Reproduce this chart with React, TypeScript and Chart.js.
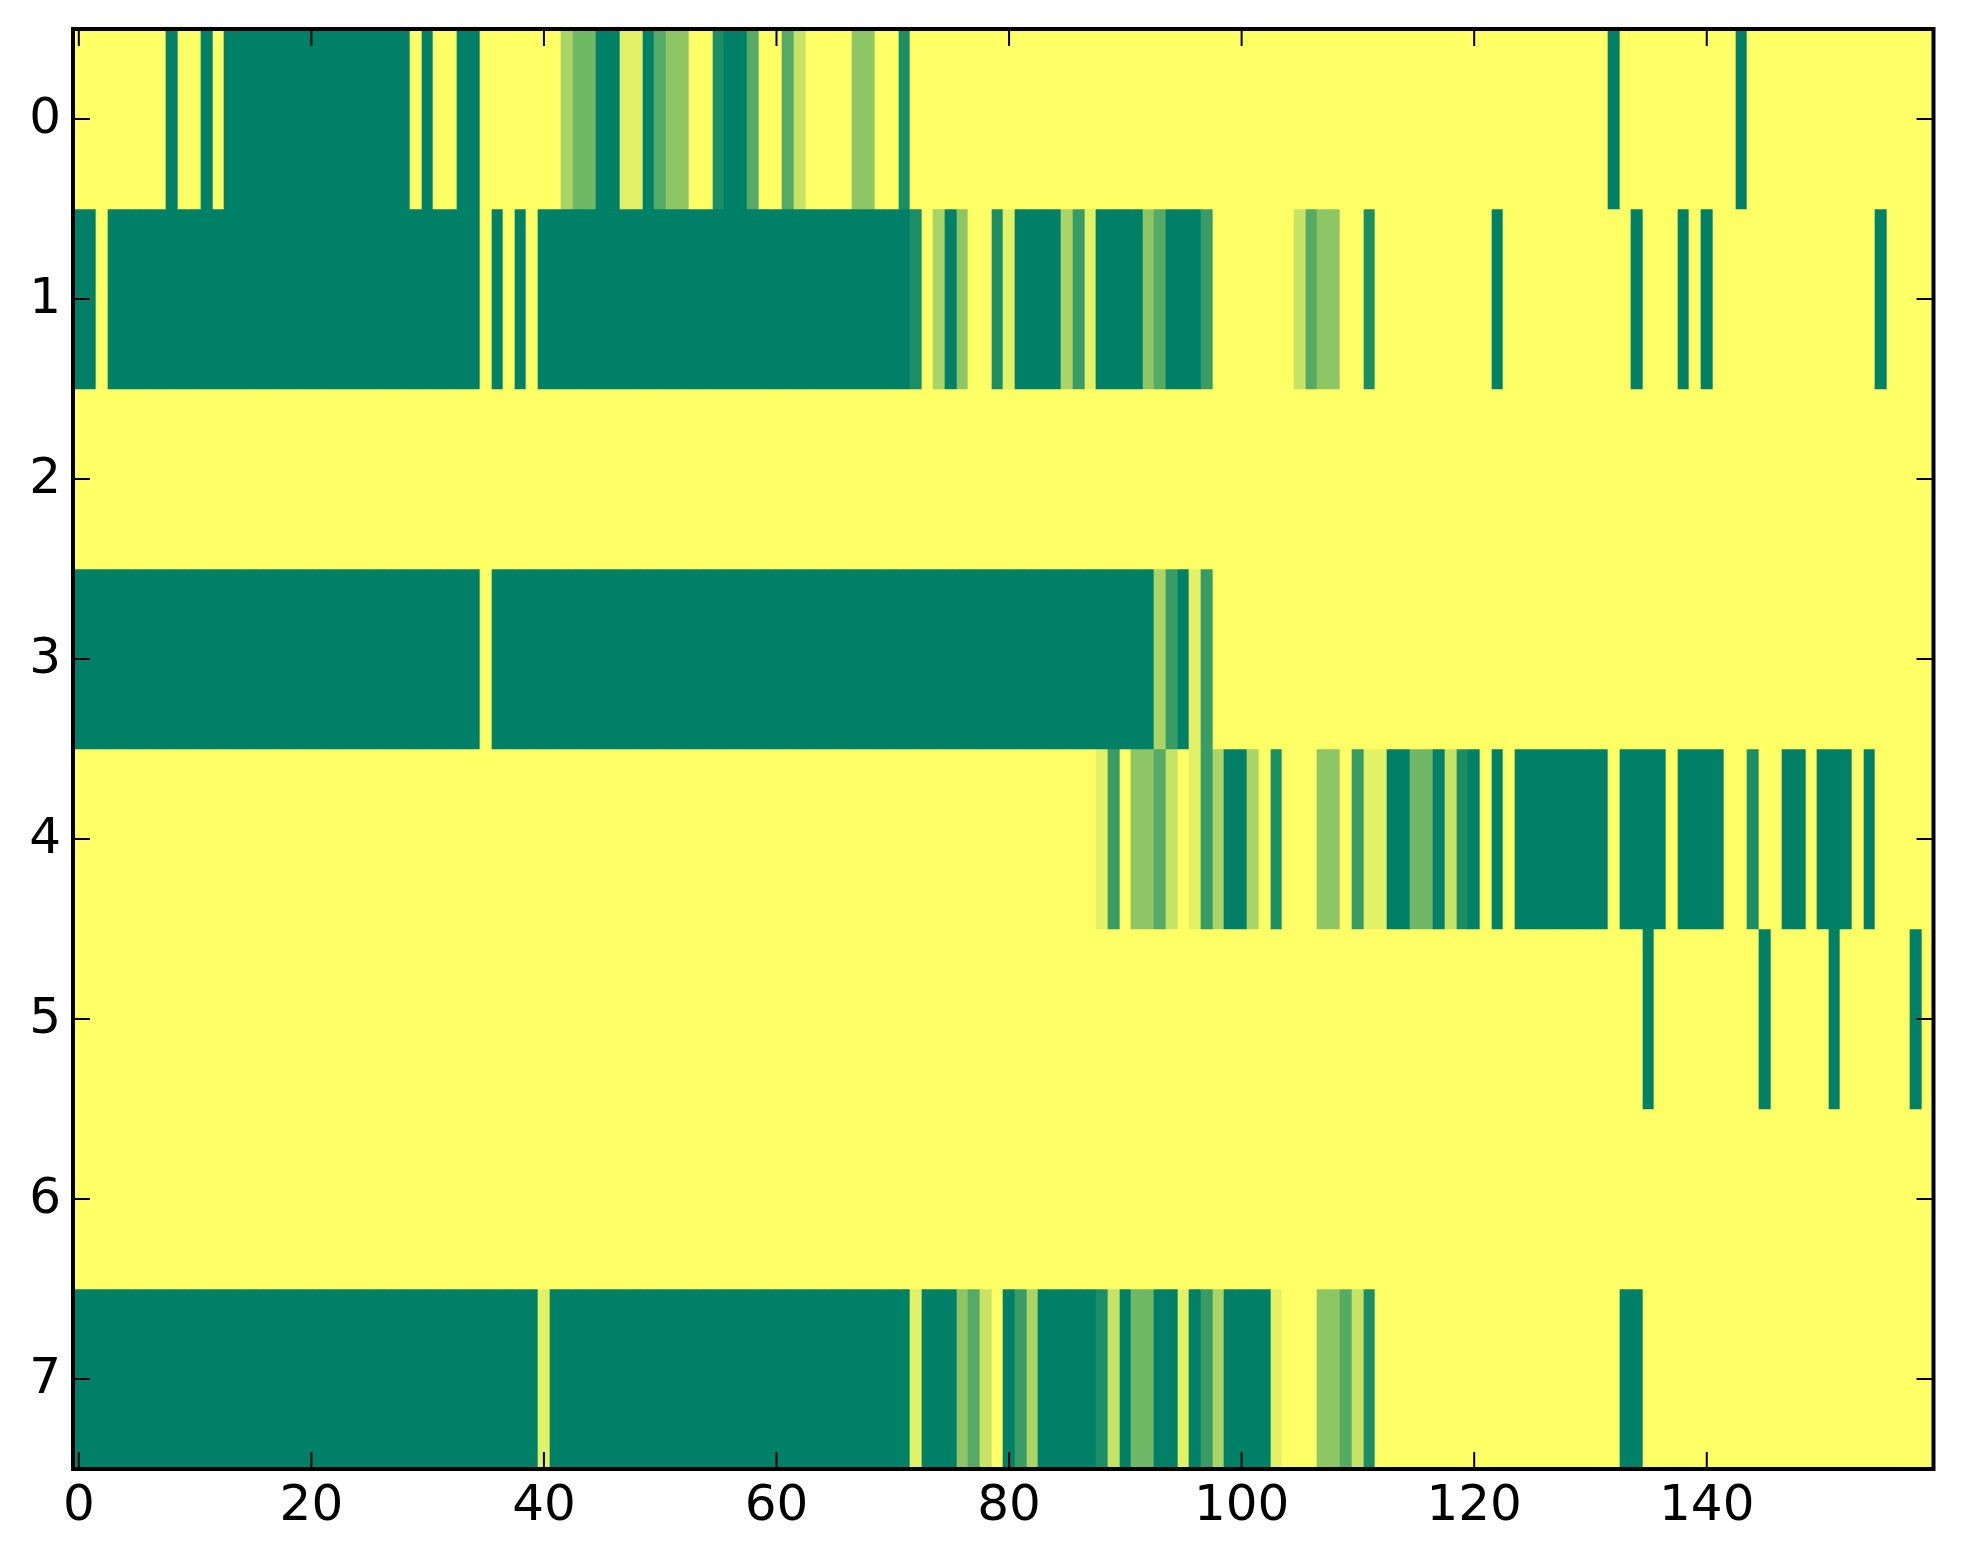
import React, { useEffect, useRef } from "react";
import { Chart, registerables } from "chart.js";

Chart.register(...registerables);

const row0 = [
  0,0,0,0,0,0,0,0,9,0, 0,9,0,9,9,9,9,9,9,9,
  9,9,9,9,9,9,9,9,9,0, 9,0,0,9,9,0,0,0,0,0,
  0,0,3,5,5,9,9,1,1,9, 6,4,4,0,0,8,9,9,6,0,
  0,6,2,0,0,0,0,4,4,0, 0,8,0,0,0,0,0,0,0,0,
  0,0,0,0,0,0,0,0,0,0, 0,0,0,0,0,0,0,0,0,0,
  0,0,0,0,0,0,0,0,0,0, 0,0,0,0,0,0,0,0,0,0,
  0,0,0,0,0,0,0,0,0,0, 0,0,9,0,0,0,0,0,0,0,
  0,0,0,9,0,0,0,0,0,0, 0,0,0,0,0,0,0,0,0,0,
];
const row1 = [
  9,9,0,9,9,9,9,9,9,9, 9,9,9,9,9,9,9,9,9,9,
  9,9,9,9,9,9,9,9,9,9, 9,9,9,9,9,0,9,0,9,0,
  9,9,9,9,9,9,9,9,9,9, 9,9,9,9,9,9,9,9,9,9,
  9,9,9,9,9,9,9,9,9,9, 9,9,8,0,3,9,4,0,0,8,
  1,9,9,9,9,3,7,1,9,9, 9,9,4,6,9,9,9,7,0,0,
  0,0,0,0,0,2,6,4,4,0, 0,8,0,0,0,0,0,0,0,0,
  0,0,9,0,0,0,0,0,0,0, 0,0,0,0,9,0,0,0,9,0,
  9,0,0,0,0,0,0,0,0,0, 0,0,0,0,0,9,0,0,0,0,
];
const row2 = [
  0,0,0,0,0,0,0,0,0,0, 0,0,0,0,0,0,0,0,0,0,
  0,0,0,0,0,0,0,0,0,0, 0,0,0,0,0,0,0,0,0,0,
  0,0,0,0,0,0,0,0,0,0, 0,0,0,0,0,0,0,0,0,0,
  0,0,0,0,0,0,0,0,0,0, 0,0,0,0,0,0,0,0,0,0,
  0,0,0,0,0,0,0,0,0,0, 0,0,0,0,0,0,0,0,0,0,
  0,0,0,0,0,0,0,0,0,0, 0,0,0,0,0,0,0,0,0,0,
  0,0,0,0,0,0,0,0,0,0, 0,0,0,0,0,0,0,0,0,0,
  0,0,0,0,0,0,0,0,0,0, 0,0,0,0,0,0,0,0,0,0,
];
const row3 = [
  9,9,9,9,9,9,9,9,9,9, 9,9,9,9,9,9,9,9,9,9,
  9,9,9,9,9,9,9,9,9,9, 9,9,9,9,9,0,9,9,9,9,
  9,9,9,9,9,9,9,9,9,9, 9,9,9,9,9,9,9,9,9,9,
  9,9,9,9,9,9,9,9,9,9, 9,9,9,9,9,9,9,9,9,9,
  9,9,9,9,9,9,9,9,9,9, 9,9,9,3,7,9,1,7,0,0,
  0,0,0,0,0,0,0,0,0,0, 0,0,0,0,0,0,0,0,0,0,
  0,0,0,0,0,0,0,0,0,0, 0,0,0,0,0,0,0,0,0,0,
  0,0,0,0,0,0,0,0,0,0, 0,0,0,0,0,0,0,0,0,0,
];
const row4 = [
  0,0,0,0,0,0,0,0,0,0, 0,0,0,0,0,0,0,0,0,0,
  0,0,0,0,0,0,0,0,0,0, 0,0,0,0,0,0,0,0,0,0,
  0,0,0,0,0,0,0,0,0,0, 0,0,0,0,0,0,0,0,0,0,
  0,0,0,0,0,0,0,0,0,0, 0,0,0,0,0,0,0,0,0,0,
  0,0,0,0,0,0,0,0,1,7, 0,4,4,6,2,0,1,7,3,9,
  9,3,0,8,0,0,0,4,4,0, 7,1,1,9,9,5,5,9,2,8,
  9,0,9,0,9,9,9,9,9,9, 9,9,0,9,9,9,9,0,9,9,
  9,9,0,0,8,0,0,9,9,0, 9,9,9,0,9,0,0,0,0,0,
];
const row5 = [
  0,0,0,0,0,0,0,0,0,0, 0,0,0,0,0,0,0,0,0,0,
  0,0,0,0,0,0,0,0,0,0, 0,0,0,0,0,0,0,0,0,0,
  0,0,0,0,0,0,0,0,0,0, 0,0,0,0,0,0,0,0,0,0,
  0,0,0,0,0,0,0,0,0,0, 0,0,0,0,0,0,0,0,0,0,
  0,0,0,0,0,0,0,0,0,0, 0,0,0,0,0,0,0,0,0,0,
  0,0,0,0,0,0,0,0,0,0, 0,0,0,0,0,0,0,0,0,0,
  0,0,0,0,0,0,0,0,0,0, 0,0,0,0,0,9,0,0,0,0,
  0,0,0,0,0,9,0,0,0,0, 0,9,0,0,0,0,0,0,9,0,
];
const row6 = [
  0,0,0,0,0,0,0,0,0,0, 0,0,0,0,0,0,0,0,0,0,
  0,0,0,0,0,0,0,0,0,0, 0,0,0,0,0,0,0,0,0,0,
  0,0,0,0,0,0,0,0,0,0, 0,0,0,0,0,0,0,0,0,0,
  0,0,0,0,0,0,0,0,0,0, 0,0,0,0,0,0,0,0,0,0,
  0,0,0,0,0,0,0,0,0,0, 0,0,0,0,0,0,0,0,0,0,
  0,0,0,0,0,0,0,0,0,0, 0,0,0,0,0,0,0,0,0,0,
  0,0,0,0,0,0,0,0,0,0, 0,0,0,0,0,0,0,0,0,0,
  0,0,0,0,0,0,0,0,0,0, 0,0,0,0,0,0,0,0,0,0,
];
const row7 = [
  9,9,9,9,9,9,9,9,9,9, 9,9,9,9,9,9,9,9,9,9,
  9,9,9,9,9,9,9,9,9,9, 9,9,9,9,9,9,9,9,9,9,
  1,9,9,9,9,9,9,9,9,9, 9,9,9,9,9,9,9,9,9,9,
  9,9,9,9,9,9,9,9,9,9, 9,9,1,9,9,9,4,6,2,0,
  9,7,3,9,9,9,9,9,8,2, 9,5,5,9,9,1,9,7,3,9,
  9,9,9,1,0,0,0,4,4,6, 2,8,0,0,0,0,0,0,0,0,
  0,0,0,0,0,0,0,0,0,0, 0,0,0,9,9,0,0,0,0,0,
  0,0,0,0,0,0,0,0,0,0, 0,0,0,0,0,0,0,0,0,0,
];

const rows = [row0, row1, row2, row3, row4, row5, row6, row7];
const xTicks = [0, 20, 40, 60, 80, 100, 120, 140];
const yTicks = [0, 1, 2, 3, 4, 5, 6, 7];
const maxLevel = 9;

// reversed "summer" colour map
function levelColor(level: number): string {
  const v = level / maxLevel;
  const r = Math.round(255 * (1 - v));
  const g = Math.round(255 * (1 - v / 2));
  return `rgb(${r},${g},102)`;
}

// whole-pixel rounding that is immune to floating point noise at exact .5
const snap = (v: number) => Math.round(Math.round(v * 1000) / 1000);

const frameTicks = {
  id: "frameTicks",
  beforeDatasetsDraw(chart: any) {
    chart.data.datasets.forEach((_: any, i: number) => {
      chart.getDatasetMeta(i).data.forEach((el: any) => {
        const l = snap(el.x - el.width / 2);
        const r = snap(el.x + el.width / 2);
        const top = snap(el.y);
        const bottom = snap(el.base);
        el.x = (l + r) / 2;
        el.width = r - l;
        el.y = top;
        el.base = bottom;
        el.height = bottom - top;
      });
    });
  },
  afterDraw(chart: any) {
    const { ctx, chartArea: a, scales } = chart;
    ctx.save();
    ctx.strokeStyle = "#000";
    ctx.lineWidth = 2;
    ctx.beginPath();
    const len = 17;
    xTicks.forEach((t) => {
      const x = scales.x.getPixelForValue(t);
      ctx.moveTo(x, a.top);
      ctx.lineTo(x, a.top + len);
      ctx.moveTo(x, a.bottom);
      ctx.lineTo(x, a.bottom - len);
    });
    yTicks.forEach((t) => {
      const y = scales.y.getPixelForValue(t);
      ctx.moveTo(a.left, y);
      ctx.lineTo(a.left + len, y);
      ctx.moveTo(a.right, y);
      ctx.lineTo(a.right - len, y);
    });
    ctx.stroke();
    ctx.lineWidth = 4;
    ctx.strokeRect(a.left, a.top, a.right - a.left, a.bottom - a.top);
    ctx.restore();
  },
};

export default function App() {
  const ref = useRef<HTMLCanvasElement>(null);
  useEffect(() => {
    document.body.style.margin = "0";
    document.body.style.background = "#fff";
    const chart = new Chart(ref.current as HTMLCanvasElement, {
      type: "bar",
      data: {
        labels: row0.map((_, i) => String(i)),
        datasets: rows.map((row, r) => ({
          label: String(r),
          data: row.map(() => [r - 0.5, r + 0.5]),
          backgroundColor: row.map(levelColor),
          borderWidth: 0,
          barPercentage: 1,
          categoryPercentage: 1,
          grouped: false,
        })),
      } as any,
      options: {
        animation: false,
        responsive: false,
        devicePixelRatio: 1,
        layout: { padding: { top: 29, right: 29.5, left: 0, bottom: 0 } },
        plugins: { legend: { display: false }, tooltip: { enabled: false }, title: { display: false } },
        scales: {
          x: {
            type: "category",
            offset: true,
            border: { display: false },
            grid: { display: false, drawTicks: false },
            afterFit(s: any) {
              s.height = 95;
              s.paddingLeft = 0;
              s.paddingRight = 0;
            },
            ticks: {
              autoSkip: false,
              maxRotation: 0,
              minRotation: 0,
              padding: 8,
              color: "#000",
              font: { family: "'DejaVu Sans'", size: 50 },
              callback: (_: any, i: number) => (xTicks.includes(i) ? String(i) : ""),
            },
          },
          y: {
            type: "linear",
            reverse: true,
            min: -0.5,
            max: 7.5,
            border: { display: false },
            grid: { display: false, drawTicks: false },
            afterFit(s: any) {
              s.width = 73;
              s.paddingTop = 0;
              s.paddingBottom = 0;
            },
            afterBuildTicks(s: any) { s.ticks = yTicks.map((v) => ({ value: v })); },
            ticks: {
              padding: 12,
              labelOffset: 1,
              color: "#000",
              font: { family: "'DejaVu Sans'", size: 50 },
              callback: (v: any) => String(v),
            },
          },
        },
      } as any,
      plugins: [frameTicks],
    });
    return () => chart.destroy();
  }, []);
  return <canvas ref={ref} width={1963} height={1564} style={{ display: "block" }} />;
}
